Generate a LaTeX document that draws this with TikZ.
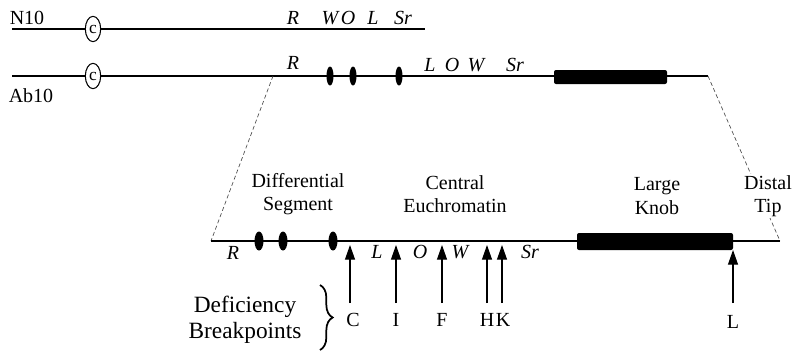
\documentclass[tikz,border=0pt]{standalone}
\usepackage{fontspec}
\setmainfont{Liberation Serif}
\usetikzlibrary{shapes.geometric,arrows.meta,decorations.pathreplacing}
\begin{document}
\begin{tikzpicture}[x=0.75pt,y=-0.75pt,
  lbl/.style={font=\fontsize{15}{17.5}\selectfont, inner sep=0pt, align=center},
  gene/.style={font=\fontsize{15}{17}\selectfont\itshape, inner sep=0pt},
  cen/.style={ellipse, draw, fill=white, line width=0.8pt, minimum width=11.5pt, minimum height=19pt, inner sep=0pt, font=\fontsize{13}{13}\selectfont},
  bandA/.style={ellipse, fill=black, minimum width=5.25pt, minimum height=14.25pt, inner sep=0pt},
  bandB/.style={ellipse, fill=black, minimum width=6.75pt, minimum height=14.25pt, inner sep=0pt},
  knob/.style={rectangle, rounded corners=1.5pt, fill=black, inner sep=0pt},
  chrom/.style={line width=1pt},
  chromB/.style={line width=1.4pt},
  guide/.style={line width=0.5pt, densely dashed, black!70},
  bparrow/.style={line width=0.9pt, -{Triangle[length=11pt,width=7.5pt]}},
]
\useasboundingbox (0,0) rectangle (796,351);

% ---- N10 ----
\node[lbl] (n10) at (27,18) {N10};
\coordinate (n10s) at (12,29);
\coordinate (n10e) at (425,29);
\draw[chrom] (n10s) -- (n10e);
\node[cen] (c1) at (93,29) {c};
\node[gene] (nR) at (293,18) {R};
\node[gene] (nW) at (330,18) {W};
\node[gene] (nO) at (348,18) {O};
\node[gene] (nL) at (373,18) {L};
\node[gene] (nSr) at (403,18) {Sr};

% ---- Ab10 ----
\node[lbl] (ab10) at (31,96) {Ab10};
\coordinate (abs) at (12,76);
\coordinate (abe) at (708,76);
\coordinate (abd) at (273,76);
\draw[chrom] (abs) -- (abe);
\node[cen] (c2) at (93,76) {c};
\node[gene] (aR) at (293,63) {R};
\node[bandA] (ab1) at (330,76) {};
\node[bandA] (ab2) at (353,76) {};
\node[bandA] (ab3) at (399,76) {};
\node[gene] (aL) at (430,65) {L};
\node[gene] (aO) at (452,65) {O};
\node[gene] (aW) at (476,65) {W};
\node[gene] (aSr) at (515,65) {Sr};
\node[knob, minimum width=84.75pt, minimum height=10.5pt] (knA) at (610.5,77) {};

% ---- expanded view ----
\coordinate (bs) at (211,241);
\coordinate (be) at (780,241);
\draw[guide] (abd) -- (bs);
\draw[guide] (abe) -- (be);
\draw[chromB] (bs) -- (be);
\node[bandB] (b1) at (259,241) {};
\node[bandB] (b2) at (283,241) {};
\node[bandB] (b3) at (333,241) {};
\node[knob, minimum width=117pt, minimum height=12.75pt] (knB) at (655,241.5) {};

\node[lbl] (diff) at (298,194) {Differential\\Segment};
\node[lbl] (cent) at (455,194) {Central\\Euchromatin};
\node[lbl] (large) at (657,196) {Large\\Knob};
\node[lbl, fill=white, inner sep=1pt] (distal) at (768,196) {Distal\\Tip};

\node[gene] (bR) at (233,253) {R};
\node[gene] (bL) at (377,252) {L};
\node[gene] (bO) at (420,252) {O};
\node[gene] (bW) at (460,252) {W};
\node[gene] (bSr) at (530,252) {Sr};

% ---- breakpoints ----
\foreach \n/\x/\t in {C/350/245, I/396/245, F/442/245, H/487/245, K/502/245, L/733/250}{
  \coordinate (tail\n) at (\x,303);
  \coordinate (tip\n) at (\x,\t);
  \draw[bparrow] (tail\n) -- (tip\n);
}
\node[lbl] (lC) at (353,320) {C};
\node[lbl] (lI) at (396,320) {I};
\node[lbl] (lF) at (442,320) {F};
\node[lbl] (lH) at (487,320) {H};
\node[lbl] (lK) at (503,320) {K};
\node[lbl] (lL) at (733,322) {L};

\coordinate (brT) at (320,285);
\coordinate (brB) at (320,350);
\draw[line width=1.3pt, decorate, decoration={brace, amplitude=9.5pt, aspect=0.5}] (brT) -- (brB);
\node[lbl, font=\fontsize{17.5}{19.5}\selectfont] (defb) at (245,320) {Deficiency\\Breakpoints};
\end{tikzpicture}
\end{document}
